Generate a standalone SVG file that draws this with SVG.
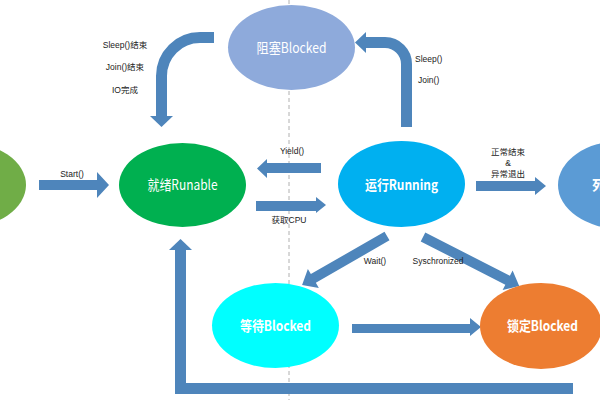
<svg xmlns="http://www.w3.org/2000/svg" width="600" height="400" viewBox="0 0 600 400">
<style>
.lbl{font-family:"Liberation Sans","Noto Sans CJK SC",sans-serif;font-size:8.5px;fill:#222;text-anchor:middle}
.nt{font-family:"Noto Sans CJK SC","Noto Sans",sans-serif;font-size:14px;fill:#fff;text-anchor:middle}
.b{font-weight:bold}
.ar{fill:#4e85bb}
.sh{fill:none;stroke:#4e85bb;stroke-width:11;stroke-linejoin:miter}
</style>
<rect width="600" height="400" fill="#fff"/>
<line x1="289" y1="0" x2="289" y2="400" stroke="#b0b0b0" stroke-width="1" stroke-dasharray="4,3"/>
<g id="connectors">
  <polygon class="ar" points="39,180 97,180 97,172 109,185 97,198 97,190 39,190"/>
  <polygon class="ar" points="321,163 267,163 267,159 257,168.5 267,178 267,173 321,173"/>
  <polygon class="ar" points="256,201 316,201 316,197 326,205 316,213 316,211 256,211"/>
  <polygon class="ar" points="476,181 535,181 535,177 546,186 535,195 535,191 476,191"/>
  <path class="sh" d="M406.5,127 V64 A21.5,21.5 0 0 0 385,42.5 H365"/>
  <polygon class="ar" points="366,32 366,53 355,42.5"/>
  <path class="sh" d="M214,37.5 H200 A38.5,38.5 0 0 0 161.5,76 V117"/>
  <polygon class="ar" points="150,116 173,116 161.5,127"/>
  <g transform="translate(387,236) rotate(150.04)">
    <polygon class="ar" points="0,-5 85,-5 85,-11 98,0 85,11 85,5 0,5"/>
  </g>
  <g transform="translate(423,237) rotate(27.04)">
    <polygon class="ar" points="0,-5 95,-5 95,-11 108,0 95,11 95,5 0,5"/>
  </g>
  <polygon class="ar" points="352,324 470,324 470,318 481,327 470,336 470,333 352,333"/>
  <path class="sh" d="M573,388.5 H180.5 V249"/>
  <polygon class="ar" points="169,250 192,250 180.5,239"/>
</g>
<g id="labels">
  <text class="lbl" x="125" y="48">Sleep()结束</text>
  <text class="lbl" x="125" y="70">Join()结束</text>
  <text class="lbl" x="125" y="93">IO完成</text>
  <text class="lbl" x="415" y="62" style="text-anchor:start">Sleep()</text>
  <text class="lbl" x="418" y="83" style="text-anchor:start">Join()</text>
  <text class="lbl" x="72" y="177">Start()</text>
  <text class="lbl" x="292" y="154">Yield()</text>
  <text class="lbl" x="289" y="223">获取CPU</text>
  <text class="lbl" x="508" y="155">正常结束</text>
  <text class="lbl" x="508" y="166">&amp;</text>
  <text class="lbl" x="508" y="177">异常退出</text>
  <text class="lbl" x="375" y="264">Wait()</text>
  <text class="lbl" x="438" y="264">Syschronized</text>
</g>
<g id="node-new">
  <ellipse cx="-37" cy="185" rx="63" ry="43" fill="#70ad47"/>
</g>
<g id="node-blocked">
  <ellipse cx="291.5" cy="47.5" rx="63.5" ry="42.5" fill="#8eaadb"/>
  <text class="nt" x="291.5" y="52.5" textLength="70" lengthAdjust="spacingAndGlyphs">阻塞Blocked</text>
</g>
<g id="node-runable">
  <ellipse cx="182.5" cy="185" rx="63.5" ry="42" fill="#00b050"/>
  <text class="nt" x="182.5" y="190" textLength="70" lengthAdjust="spacingAndGlyphs">就绪Runable</text>
</g>
<g id="node-running">
  <ellipse cx="401.5" cy="184" rx="63.5" ry="43" fill="#00b0f0"/>
  <text class="nt b" x="401.5" y="189.5" textLength="73" lengthAdjust="spacingAndGlyphs">运行Running</text>
</g>
<g id="node-dead">
  <ellipse cx="621" cy="185" rx="63" ry="44" fill="#5b9bd5"/>
  <text class="nt b" x="592" y="190" style="text-anchor:start">死亡</text>
</g>
<g id="node-waiting">
  <ellipse cx="275.5" cy="325.5" rx="63.5" ry="42.5" fill="#00ffff"/>
  <text class="nt b" x="275.5" y="330.5" textLength="71" lengthAdjust="spacingAndGlyphs">等待Blocked</text>
</g>
<g id="node-locked">
  <ellipse cx="541" cy="326" rx="61" ry="43" fill="#ed7d31"/>
  <text class="nt b" x="542.5" y="331" textLength="71" lengthAdjust="spacingAndGlyphs">锁定Blocked</text>
</g>
</svg>
